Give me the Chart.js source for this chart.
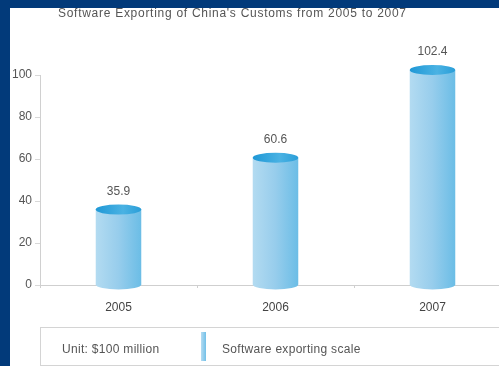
<!DOCTYPE html>
<html>
<head>
<meta charset="utf-8">
<script src="https://cdn.jsdelivr.net/npm/chart.js@4"></script>
<style>
  html, body { margin: 0; padding: 0; }
  body { width: 499px; height: 366px; overflow: hidden; background: #023a7a; position: relative;
         font-family: "Liberation Sans", Arial, sans-serif; }
  #panel { position: absolute; left: 10px; top: 8px; width: 489px; height: 358px; background: #fff; overflow: hidden; }
  #wrap { position: absolute; left: -10px; top: -8px; width: 520px; height: 366px; }
  #title { position: absolute; left: 48px; top: -2px; font-size: 12px; color: #555; white-space: nowrap; letter-spacing: 0.72px; }
  #legend { position: absolute; left: 30px; top: 319px; width: 480px; height: 37px; border: 1px solid #d4d4d4;
            font-size: 12px; letter-spacing: 0.3px; color: #555; }
  #legend span { position: absolute; top: 14px; white-space: nowrap; }
  #icon { position: absolute; left: 160px; top: 4px; width: 5px; height: 29px;
          background: linear-gradient(to right, #b5dcf2, #72c0e8); }
</style>
</head>
<body>
<div id="panel">
  <div id="wrap"><canvas id="chart" width="520" height="366"></canvas></div>
  <div id="title">Software Exporting of China's Customs from 2005 to 2007</div>
  <div id="legend">
    <span style="left:21px">Unit: $100 million</span>
    <div id="icon"></div>
    <span style="left:181px">Software exporting scale</span>
  </div>
</div>
<script>
const years = ['2005', '2006', '2007'];
const exportScale = [35.9, 60.6, 102.4];
const yTicks = [0, 20, 40, 60, 80, 100];

// draws each bar as a cylinder, plus the value above it
const cylinders = {
  id: 'cylinders',
  afterDatasetsDraw(chart) {
    const ctx = chart.ctx;
    const meta = chart.getDatasetMeta(0);
    meta.data.forEach((bar, i) => {
      const w = bar.width;
      const left = bar.x - w / 2;
      const ry = w * 0.11;
      const top = bar.y;
      const base = bar.base;

      const body = ctx.createLinearGradient(left, 0, left + w, 0);
      body.addColorStop(0, '#b3dbf1');
      body.addColorStop(0.5, '#97cdec');
      body.addColorStop(1, '#6bbde6');

      ctx.save();
      ctx.fillStyle = body;
      ctx.beginPath();
      ctx.moveTo(left, top);
      ctx.lineTo(left, base);
      ctx.ellipse(bar.x, base, w / 2, ry, 0, Math.PI, 0, true);
      ctx.lineTo(left + w, top);
      ctx.closePath();
      ctx.fill();

      const cap = ctx.createLinearGradient(left, 0, left + w, 0);
      cap.addColorStop(0, '#1f98d6');
      cap.addColorStop(0.6, '#4ab2e3');
      cap.addColorStop(1, '#2a9ed8');
      ctx.fillStyle = cap;
      ctx.beginPath();
      ctx.ellipse(bar.x, top, w / 2, ry, 0, 0, Math.PI * 2);
      ctx.fill();

      ctx.fillStyle = '#555';
      ctx.font = '12px "Liberation Sans", Arial, sans-serif';
      ctx.textAlign = 'center';
      ctx.textBaseline = 'bottom';
      ctx.fillText(exportScale[i], bar.x, top - ry - 7);
      ctx.restore();
    });
  }
};

new Chart(document.getElementById('chart'), {
  type: 'bar',
  data: {
    labels: years,
    datasets: [{
      label: 'Software exporting scale',
      data: exportScale,
      backgroundColor: 'rgba(0,0,0,0)',
      borderWidth: 0,
      categoryPercentage: 1,
      barPercentage: 0.29,
      clip: false
    }]
  },
  options: {
    responsive: false,
    animation: false,
    layout: { padding: { top: 75, right: 9, bottom: 46, left: 0 } },
    plugins: {
      legend: { display: false },
      tooltip: { enabled: false }
    },
    scales: {
      x: {
        afterFit(scale) { scale.height = 35; },
        border: { color: '#cfcfcf' },
        grid: { drawOnChartArea: false, tickLength: 3, color: '#cfcfcf' },
        ticks: { color: '#444', font: { size: 12, family: '"Liberation Sans", Arial, sans-serif' }, padding: 12 }
      },
      y: {
        min: 0,
        max: 100,
        afterFit(scale) { scale.width = 40; },
        afterBuildTicks(scale) { scale.ticks = yTicks.map(v => ({ value: v })); },
        border: { color: '#d0d0d0' },
        grid: { drawOnChartArea: false, tickLength: 5, color: '#d8d8d8' },
        ticks: { color: '#555', font: { size: 12, family: '"Liberation Sans", Arial, sans-serif' }, padding: 3 }
      }
    }
  },
  plugins: [cylinders]
});
</script>
</body>
</html>
